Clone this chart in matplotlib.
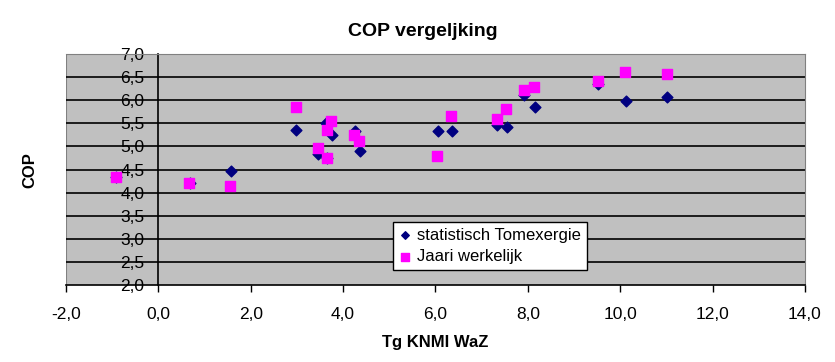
import numpy as np
import matplotlib.pyplot as plt

plt.rcParams['font.family'] = ['Liberation Sans', 'DejaVu Sans']

# statistisch Tomexergie
x_stat = [-0.92, 0.68, 1.57, 2.97, 3.46, 3.63, 3.66, 3.75, 4.25, 4.36,
          6.05, 6.35, 7.33, 7.54, 7.92, 8.15, 9.52, 10.12, 11.02]
y_stat = [4.34, 4.21, 4.47, 5.35, 4.84, 5.51, 4.76, 5.24, 5.33, 4.90,
          5.33, 5.33, 5.46, 5.41, 6.11, 5.85, 6.35, 5.98, 6.08]

# Jaari werkelijk
x_real = [-0.92, 0.67, 1.56, 2.97, 3.46, 3.65, 3.74, 3.65, 4.24, 4.34,
          6.03, 6.34, 7.33, 7.53, 7.92, 8.13, 9.52, 10.11, 11.01]
y_real = [4.34, 4.21, 4.15, 5.86, 4.97, 5.36, 5.56, 4.76, 5.25, 5.12,
          4.80, 5.66, 5.59, 5.81, 6.22, 6.29, 6.42, 6.62, 6.57]

x_ticks = np.arange(-2, 14.1, 2)
y_ticks = np.arange(2, 7.01, 0.5)

fig = plt.figure(figsize=(8.35, 3.62), dpi=100)
ax = fig.add_axes([0.079, 0.2127, 0.885, 0.638])
ax.set_facecolor('#C0C0C0')

# y-as bij x = 0 (eerst, anders worden de ticks gereset)
ax.spines['left'].set_position(('data', 0))
ax.spines['left'].set_color('black')
ax.spines['left'].set_linewidth(1.2)
ax.spines['left'].set_zorder(2)
ax.spines['top'].set_color('#808080')
ax.spines['right'].set_color('#808080')
ax.spines['bottom'].set_color('black')
ax.spines['bottom'].set_linewidth(1.2)
# linkerrand van het plotgebied
ax.axvline(-2, color='#808080', lw=1.5, zorder=1)

# horizontale rasterlijnen
for yv in y_ticks[1:-1]:
    ax.axhline(yv, color='black', lw=1.2, zorder=1)

ax.scatter(x_stat, y_stat, marker='D', s=30, color='#000080', zorder=3,
           label='statistisch Tomexergie')
ax.scatter(x_real, y_real, marker='s', s=55, color='#FF00FF', zorder=4,
           label='Jaari werkelijk')

ax.set_xlim(-2, 14)
ax.set_ylim(2, 7)
ax.set_xticks(x_ticks)
ax.set_yticks(y_ticks)
ax.set_xticklabels([f"{v:.1f}".replace('.', ',') for v in x_ticks], fontsize=12.5)
ax.set_yticklabels([f"{v:.1f}".replace('.', ',') for v in y_ticks], fontsize=12.5)

ax.tick_params(axis='y', length=0, pad=10)
ax.tick_params(axis='x', length=5, width=1, direction='out', pad=11)

ax.set_title("COP vergeljking", fontsize=14, fontweight='bold', pad=13, x=0.483)
ax.set_xlabel("Tg KNMI WaZ", fontsize=12, fontweight='bold', labelpad=9)
fig.text(0.036, 0.53, "COP", rotation=90, fontsize=12, fontweight='bold',
         ha='center', va='center')

leg = ax.legend(loc='upper left', bbox_to_anchor=(0.4425, 0.273), fontsize=12,
                frameon=True, fancybox=False, edgecolor='black',
                framealpha=1, borderpad=0.35, handletextpad=0.3,
                handlelength=0.8, markerscale=0.7, labelspacing=0.4,
                borderaxespad=0)
leg.get_frame().set_linewidth(1)

fig.savefig('out.png', dpi=100)
